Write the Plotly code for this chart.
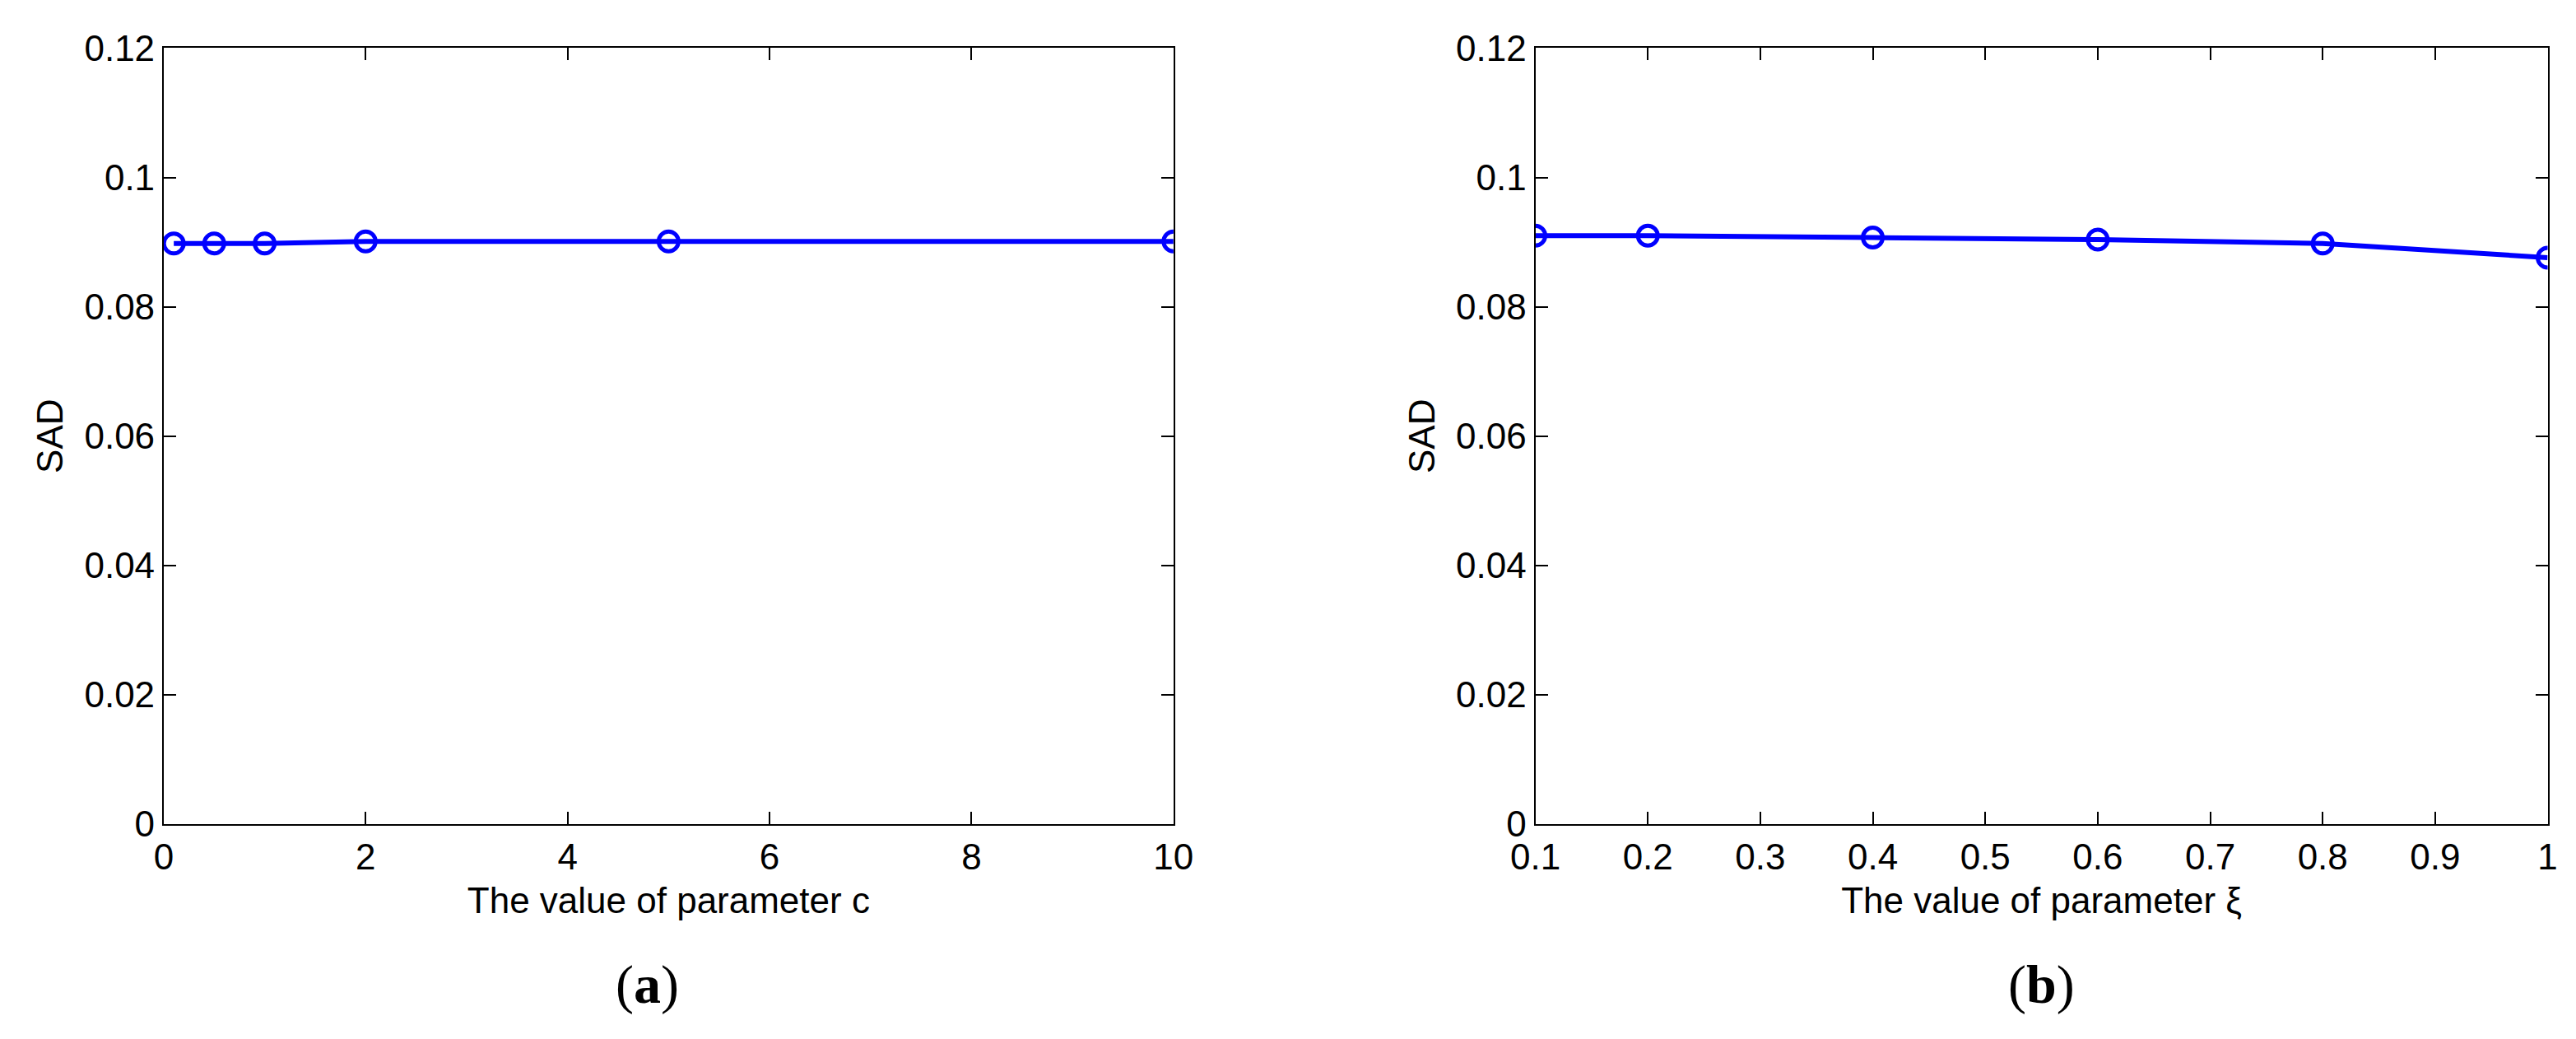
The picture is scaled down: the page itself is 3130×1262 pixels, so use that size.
import plotly.graph_objects as go

# panel (a): parameter c
c_values = [0.1, 0.5, 1, 2, 5, 10]
sad_c = [0.0898, 0.0898, 0.0898, 0.0901, 0.0901, 0.0901]

# panel (b): parameter xi
xi_values = [0.1, 0.2, 0.4, 0.6, 0.8, 1.0]
sad_xi = [0.0910, 0.0910, 0.0907, 0.0904, 0.0898, 0.0876]

y_ticks = [0, 0.02, 0.04, 0.06, 0.08, 0.1, 0.12]
y_labels = ["0", "0.02", "0.04", "0.06", "0.08", "0.1", "0.12"]

fig = go.Figure()

style = dict(mode="lines+markers",
             line=dict(color="#0000ff", width=6),
             marker=dict(symbol="circle-open", size=24, color="#0000ff",
                         line=dict(width=5, color="#0000ff")),
             showlegend=False)

fig.add_trace(go.Scatter(x=c_values, y=sad_c, xaxis="x", yaxis="y", **style))
fig.add_trace(go.Scatter(x=xi_values, y=sad_xi, xaxis="x2", yaxis="y2", **style))

axis_common = dict(showgrid=False, zeroline=False, showline=True, mirror="ticks",
                   linecolor="black", linewidth=2, ticks="inside", ticklen=15,
                   tickwidth=2, tickcolor="black",
                   tickfont=dict(family="Liberation Sans Narrow, Liberation Sans, Arial", size=44, color="black"))

title_font = dict(family="Liberation Sans Narrow, Liberation Sans, Arial", size=44)

fig.update_layout(
    width=3130, height=1262,
    paper_bgcolor="white", plot_bgcolor="white",
    margin=dict(l=0, r=0, t=0, b=0),
    font=dict(family="Liberation Sans, Arial", color="black"),
    xaxis=dict(domain=[0.052, 0.451], range=[0, 10], tickvals=[0, 2, 4, 6, 8, 10],
               title=dict(text="The value of parameter c", font=title_font, standoff=14),
               anchor="y", **axis_common),
    yaxis=dict(domain=[0.202, 0.979], range=[0, 0.12], tickvals=y_ticks, ticktext=y_labels,
               title=dict(text="SAD", font=title_font, standoff=12),
               anchor="x", **axis_common),
    xaxis2=dict(domain=[0.594, 0.994], range=[0.1, 1],
                tickvals=[0.1, 0.2, 0.3, 0.4, 0.5, 0.6, 0.7, 0.8, 0.9, 1],
                ticktext=["0.1", "0.2", "0.3", "0.4", "0.5", "0.6", "0.7", "0.8", "0.9", "1"],
                title=dict(text="The value of parameter ξ", font=title_font, standoff=14),
                anchor="y2", **axis_common),
    yaxis2=dict(domain=[0.202, 0.979], range=[0, 0.12], tickvals=y_ticks, ticktext=y_labels,
                title=dict(text="SAD", font=title_font, standoff=12),
                anchor="x2", **axis_common),
    annotations=[
        dict(text="(<b>a</b>)", xref="paper", yref="paper", x=0.243, y=0.041,
             xanchor="center", yanchor="middle", showarrow=False,
             font=dict(family="Liberation Serif, Times New Roman", size=66)),
        dict(text="(<b>b</b>)", xref="paper", yref="paper", x=0.794, y=0.041,
             xanchor="center", yanchor="middle", showarrow=False,
             font=dict(family="Liberation Serif, Times New Roman", size=66)),
    ],
)

fig.write_html("out.html")
